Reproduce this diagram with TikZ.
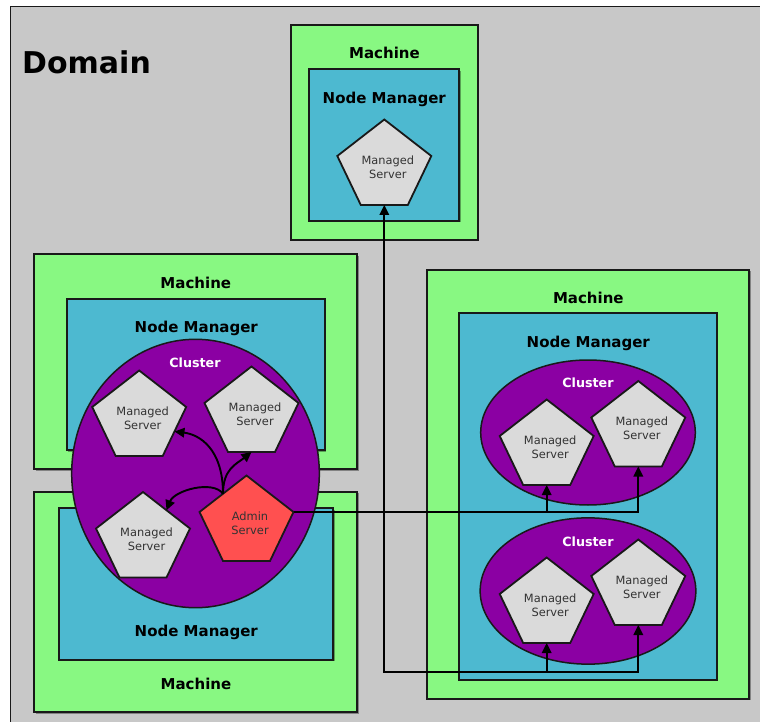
\documentclass[tikz,border=0pt]{standalone}
\usepackage{fontspec}
\setmainfont{DejaVu Sans}
\definecolor{domaingray}{RGB}{200, 200, 200}
\definecolor{machgreen}{RGB}{136, 248, 130}
\definecolor{nmblue}{RGB}{77, 185, 208}
\definecolor{clpurple}{RGB}{139, 0, 163}
\definecolor{srvgray}{RGB}{218, 218, 218}
\definecolor{adminred}{RGB}{255, 80, 80}
\definecolor{edgeblack}{RGB}{25, 25, 25}
\usetikzlibrary{arrows.meta, shapes.geometric, shadows, calc}
\tikzset{
	boxshadow/.style={drop shadow={shadow xshift=1.4pt, shadow yshift=-1.4pt, opacity=0.35, fill=black}},
	machine/.style={rectangle, draw=edgeblack, fill=machgreen, line width=1.8pt, inner sep=0pt, boxshadow},
	manager/.style={rectangle, draw=edgeblack, fill=nmblue, line width=1.8pt, inner sep=0pt, boxshadow},
	cluster/.style={ellipse, draw=edgeblack, fill=clpurple, line width=1.5pt, inner sep=0pt},
	boxlabel/.style={anchor=base, inner sep=0pt, font=\bfseries\fontsize{15}{18}\selectfont},
	cllabel/.style={anchor=base, inner sep=0pt, text=white, font=\bfseries\fontsize{12.7}{15}\selectfont},
	srvshape/.style={draw=edgeblack, line width=1.8pt, line join=miter},
	srvtext/.style={align=center, inner sep=0pt, xshift=3.5pt, text=black!80, font=\fontsize{11.4}{14.3}\selectfont},
	conn/.style={draw=black, line width=1.9pt},
	arrow/.style={conn, -{Triangle[length=10pt, width=9.5pt]}},
}
% pentagon server: name, centre, fill, text
\newcommand{\srvnode}[4]{%
	\begin{scope}[shift={(#2)}]
		\filldraw[srvshape, fill=#3] (0,-47.5) -- (-47,-11) -- (-23.5,38) -- (23.5,38) -- (47,-11) -- cycle;
		\coordinate (#1-b) at (0,38);
		\coordinate (#1-r) at (47,-11);
		\coordinate (#1-ul) at (-23.5,-29.25);
		\coordinate (#1-ur) at (23.5,-29.25);
		\coordinate (#1-lr) at (35.25,13.5);
	\end{scope}
	\node[srvtext] (#1) at (#2) {#4};
}

\begin{document}
\begin{tikzpicture}[x=1pt, y=-1pt]
	\useasboundingbox (0,0) rectangle (760,722);
	\fill[white] (0,0) rectangle (760,722);
	\draw[line width=1.8pt, draw=edgeblack, fill=domaingray] (10.5,6.5) rectangle (790,750);
	\node[font=\bfseries\fontsize{30}{36}\selectfont, anchor=base west, inner sep=0pt] (domain) at (22,74) {Domain};

	% machines
	\node[machine, minimum width=187pt, minimum height=215pt] (mach0) at (384.5,132.5) {};
	\node[machine, minimum width=323pt, minimum height=215pt] (mach1) at (195.8,361.8) {};
	\node[machine, minimum width=323pt, minimum height=220.6pt] (mach2) at (195.8,602) {};
	\node[machine, minimum width=322.6pt, minimum height=429pt] (mach3) at (588,484.5) {};

	% node managers
	\node[manager, minimum width=150pt, minimum height=151.7pt] (nm0) at (384.3,145.2) {};
	\node[manager, minimum width=258.3pt, minimum height=151.3pt] (nm1) at (195.8,374.7) {};
	\node[manager, minimum width=274.3pt, minimum height=151.4pt] (nm2) at (196.2,584) {};
	\node[manager, minimum width=257.7pt, minimum height=367.3pt] (nm3) at (587.8,496.3) {};

	\node[boxlabel] at (384.5,58.3) {Machine};
	\node[boxlabel] at (384.3,103.3) {Node Manager};
	\node[boxlabel] at (195.8,288.3) {Machine};
	\node[boxlabel] at (196.3,332.7) {Node Manager};
	\node[boxlabel] at (196.3,636.7) {Node Manager};
	\node[boxlabel] at (196,689) {Machine};
	\node[boxlabel] at (588.3,303.3) {Machine};
	\node[boxlabel] at (588.3,347.3) {Node Manager};

	% clusters
	\node[cluster, minimum width=247.6pt, minimum height=268.4pt] (cl1) at (195.5,473.5) {};
	\node[cluster, minimum width=214.6pt, minimum height=145pt] (cl2) at (588,432.5) {};
	\node[cluster, minimum width=215.7pt, minimum height=146.3pt] (cl3) at (588,591) {};
	\node[cllabel] at (195,367.7) {Cluster};
	\node[cllabel] at (588,387.7) {Cluster};
	\node[cllabel] at (588,546) {Cluster};

	% servers
	\srvnode{ms0}{384.3,167}{srvgray}{Managed\\Server}
	\srvnode{ms1}{139.2,418}{srvgray}{Managed\\Server}
	\srvnode{ms2}{251.5,414}{srvgray}{Managed\\Server}
	\srvnode{ms3}{143,539.5}{srvgray}{Managed\\Server}
	\srvnode{admin}{246.5,523}{adminred}{Admin\\Server}
	\srvnode{pa}{546.7,447}{srvgray}{Managed\\Server}
	\srvnode{pb}{638.3,428.5}{srvgray}{Managed\\Server}
	\srvnode{pc}{546.7,605}{srvgray}{Managed\\Server}
	\srvnode{pd}{638.3,587}{srvgray}{Managed\\Server}

	% connectors
	\draw[arrow] (admin-ul) .. controls +(0,-45) and +(25,3) .. (ms1-lr);
	\draw[arrow] (admin-ul) .. controls +(0,-25) and +(-15,12) .. (ms2-b);
	\draw[arrow] (admin-ul) .. controls +(-10,-14) and +(8,-20) .. (ms3-ur);
	\draw[arrow] (admin-r) -| (pb-b);
	\draw[arrow] (pa-b |- admin-r) -- (pa-b);
	\draw[arrow] (admin-r) -| (ms0-b);
	\coordinate (loopL) at (384.3,672);
	\draw[arrow] (ms0-b |- admin-r) -- (loopL) -| (pd-b);
	\draw[arrow] (pc-b |- loopL) -- (pc-b);
\end{tikzpicture}
\end{document}
